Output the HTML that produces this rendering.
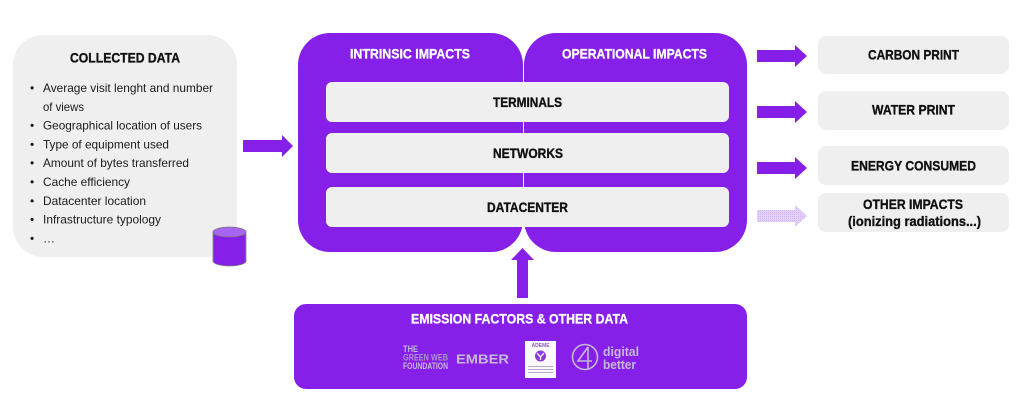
<!DOCTYPE html>
<html><head><meta charset="utf-8"><style>
html,body{margin:0;padding:0;background:#fff;width:1024px;height:410px;overflow:hidden}
svg{display:block}
text{font-family:"Liberation Sans",Arial,sans-serif}
.h{font-weight:bold;font-size:14px;fill:#111;stroke:#111;stroke-width:0.35}
.w{font-weight:bold;font-size:14px;fill:#fff;stroke:#fff;stroke-width:0.3}
.l{font-size:12px;fill:#1a1a1a}
</style></head><body>
<svg width="1024" height="410" viewBox="0 0 1024 410" xmlns="http://www.w3.org/2000/svg">
<defs>
<pattern id="dots" width="2" height="2" patternUnits="userSpaceOnUse">
<rect width="2" height="2" fill="#e2cffa"/><rect width="1" height="1" fill="#d3b6f7"/>
</pattern>
</defs>
<!-- Collected data -->
<rect x="13" y="35" width="224" height="222" rx="30" fill="#efefef"/>
<text class="h" x="125" y="62.5" text-anchor="middle" textLength="110" lengthAdjust="spacingAndGlyphs">COLLECTED DATA</text>
<g class="l">
<text x="30" y="92">•</text><text x="43" y="92" class="l" textLength="170" lengthAdjust="spacingAndGlyphs">Average visit lenght and number</text>
<text x="43" y="110.8" class="l" textLength="41" lengthAdjust="spacingAndGlyphs">of views</text>
<text x="30" y="129.6">•</text><text x="43" y="129.6" class="l" textLength="159" lengthAdjust="spacingAndGlyphs">Geographical location of users</text>
<text x="30" y="148.4">•</text><text x="43" y="148.4" class="l" textLength="126" lengthAdjust="spacingAndGlyphs">Type of equipment used</text>
<text x="30" y="167.2">•</text><text x="43" y="167.2" class="l" textLength="146" lengthAdjust="spacingAndGlyphs">Amount of bytes transferred</text>
<text x="30" y="186">•</text><text x="43" y="186" class="l" textLength="87" lengthAdjust="spacingAndGlyphs">Cache efficiency</text>
<text x="30" y="204.8">•</text><text x="43" y="204.8" class="l" textLength="103" lengthAdjust="spacingAndGlyphs">Datacenter location</text>
<text x="30" y="223.6">•</text><text x="43" y="223.6" class="l" textLength="118" lengthAdjust="spacingAndGlyphs">Infrastructure typology</text>
<text x="30" y="242.4">•</text><text x="43" y="242.4" class="l">…</text>
</g>
<!-- cylinder -->
<ellipse cx="229.5" cy="261" rx="16.5" ry="5" fill="#861fe8" stroke="#7a7a7a" stroke-width="0.8"/>
<rect x="213.4" y="232" width="32.2" height="29" fill="#861fe8"/>
<line x1="213" y1="232" x2="213" y2="261" stroke="#7a7a7a" stroke-width="0.8"/>
<line x1="246" y1="232" x2="246" y2="261" stroke="#7a7a7a" stroke-width="0.8"/>
<ellipse cx="229.5" cy="232" rx="16.5" ry="5" fill="#a565f1" stroke="#7a7a7a" stroke-width="0.8"/>
<!-- left arrow -->
<polygon points="243,140 282,140 282,135 293,146 282,157 282,152 243,152" fill="#861fe8"/>
<!-- main boxes -->
<rect x="298" y="33" width="225" height="219" rx="32" fill="#861fe8"/>
<rect x="524" y="33" width="223" height="219" rx="32" fill="#861fe8"/>
<text class="w" x="410" y="58.5" text-anchor="middle" textLength="120" lengthAdjust="spacingAndGlyphs">INTRINSIC IMPACTS</text>
<text class="w" x="634.5" y="58.5" text-anchor="middle" textLength="145" lengthAdjust="spacingAndGlyphs">OPERATIONAL IMPACTS</text>
<rect x="326" y="82" width="403" height="40" rx="6" fill="#efefef"/>
<rect x="326" y="133" width="403" height="40" rx="6" fill="#efefef"/>
<rect x="326" y="187" width="403" height="40" rx="6" fill="#efefef"/>
<text class="h" x="527.5" y="107" text-anchor="middle" textLength="69" lengthAdjust="spacingAndGlyphs">TERMINALS</text>
<text class="h" x="528" y="158" text-anchor="middle" textLength="70" lengthAdjust="spacingAndGlyphs">NETWORKS</text>
<text class="h" x="527.5" y="212" text-anchor="middle" textLength="81" lengthAdjust="spacingAndGlyphs">DATACENTER</text>
<!-- right arrows -->
<polygon points="757,50 795,50 795,45 807,56 795,67 795,62 757,62" fill="#861fe8"/>
<polygon points="757,106 795,106 795,101 807,112 795,123 795,118 757,118" fill="#861fe8"/>
<polygon points="757,162 795,162 795,157 807,168 795,179 795,174 757,174" fill="#861fe8"/>
<polygon points="757,210 795,210 795,205 807,216 795,227 795,222 757,222" fill="url(#dots)"/>
<!-- right boxes -->
<rect x="818" y="36" width="191" height="38" rx="8" fill="#efefef"/>
<rect x="818" y="91" width="191" height="39" rx="8" fill="#efefef"/>
<rect x="818" y="146" width="191" height="39" rx="8" fill="#efefef"/>
<rect x="818" y="193" width="191" height="39" rx="8" fill="#efefef"/>
<text class="h" x="913.5" y="59.5" text-anchor="middle" textLength="91" lengthAdjust="spacingAndGlyphs">CARBON PRINT</text>
<text class="h" x="913.5" y="114.5" text-anchor="middle" textLength="83" lengthAdjust="spacingAndGlyphs">WATER PRINT</text>
<text class="h" x="913.5" y="170.5" text-anchor="middle" textLength="125" lengthAdjust="spacingAndGlyphs">ENERGY CONSUMED</text>
<text class="h" x="913" y="209" text-anchor="middle" textLength="100" lengthAdjust="spacingAndGlyphs">OTHER IMPACTS</text>
<text class="h" x="914.5" y="226" text-anchor="middle" textLength="133" lengthAdjust="spacingAndGlyphs">(ionizing radiations...)</text>
<!-- up arrow -->
<polygon points="517,298 517,260 511,260 522.5,248 534,260 528,260 528,298" fill="#861fe8"/>
<!-- bottom box -->
<rect x="294" y="304" width="453" height="85" rx="12" fill="#861fe8"/>
<text class="w" x="519.5" y="323.5" text-anchor="middle" textLength="217" lengthAdjust="spacingAndGlyphs">EMISSION FACTORS &amp; OTHER DATA</text>
<!-- logos -->
<g font-family="Liberation Sans, sans-serif">
<text x="403" y="352" font-size="9" font-weight="bold" fill="#c4b9d9" textLength="15" lengthAdjust="spacingAndGlyphs">THE</text>
<text x="403" y="360.5" font-size="9" font-weight="bold" fill="#a896c4" textLength="45" lengthAdjust="spacingAndGlyphs">GREEN WEB</text>
<text x="403" y="369" font-size="9" font-weight="bold" fill="#c4b9d9" textLength="45" lengthAdjust="spacingAndGlyphs">FOUNDATION</text>
<text x="456" y="363.5" font-size="13" font-weight="bold" fill="#c4b9d9" textLength="53" lengthAdjust="spacingAndGlyphs">EMBER</text>
<rect x="525" y="341" width="31" height="37" fill="#fafafa"/>
<text x="540.5" y="347" font-size="5" font-weight="bold" fill="#8a5cc4" text-anchor="middle">ADEME</text>
<circle cx="540.5" cy="356" r="5.5" fill="#8a3ad8"/>
<path d="M537 353 L540.5 357 L544 353 M540.5 357 L540.5 360" stroke="#fff" stroke-width="1.3" fill="none"/>
<rect x="528" y="366" width="25" height="1" fill="#b9a9cf"/>
<rect x="528" y="369" width="25" height="1" fill="#b9a9cf"/>
<rect x="528" y="372" width="25" height="1" fill="#b9a9cf"/>
<circle cx="585" cy="357" r="12.5" fill="none" stroke="#c4b9d9" stroke-width="1.6"/>
<path d="M588 347 L578 361 L592 361 M588 347 L588 369" stroke="#c4b9d9" stroke-width="1.6" fill="none"/>
<text x="603" y="356" font-size="13" font-weight="bold" fill="#c4b9d9" textLength="36" lengthAdjust="spacingAndGlyphs">digital</text>
<text x="603" y="369" font-size="13" font-weight="bold" fill="#c4b9d9" textLength="33" lengthAdjust="spacingAndGlyphs">better</text>
</g>
</svg>
</body></html>
